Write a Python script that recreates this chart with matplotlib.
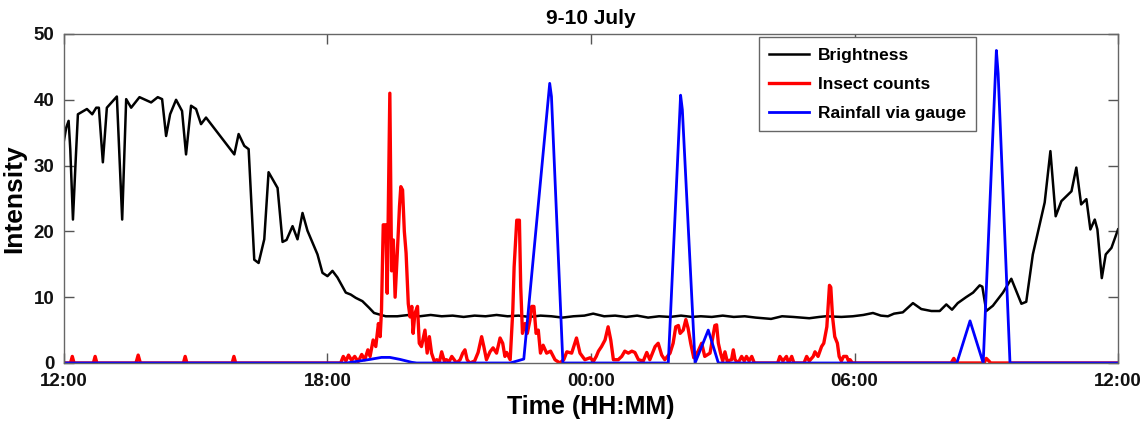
import numpy as np
import matplotlib
matplotlib.use('Agg')
import matplotlib.pyplot as plt

plt.rcParams['font.family'] = ['Liberation Sans', 'DejaVu Sans']
plt.rcParams['font.weight'] = 'bold'

# hours since 12:00 on 9 July
tick_hours = [0, 6, 12, 18, 24]
tick_labels = ['12:00', '18:00', '00:00', '06:00', '12:00']

bright_t = [0.0, 0.053, 0.106, 0.144, 0.205, 0.265, 0.318, 0.523, 0.644, 0.735, 0.795, 0.886,
            0.977, 1.205, 1.326, 1.417, 1.530, 1.720, 1.985, 2.136, 2.235, 2.326, 2.417, 2.553,
            2.689, 2.780, 2.894, 3.008, 3.121, 3.235, 3.879, 3.977, 4.106, 4.205, 4.333, 4.432,
            4.561, 4.659, 4.864, 4.977, 5.068, 5.205, 5.318, 5.432, 5.545, 5.773, 5.886, 6.0,
            6.114, 6.227, 6.417, 6.530, 6.644, 6.795, 6.947, 7.061, 7.326, 7.59,
            7.85, 8.1, 8.35, 8.6, 8.85, 9.1, 9.35, 9.6, 9.85, 10.1, 10.35, 10.6, 10.85, 11.1,
            11.35, 11.6, 11.85, 12.05, 12.3, 12.55, 12.8, 13.05, 13.3, 13.55, 13.8, 14.05,
            14.3, 14.5, 14.75, 15.0, 15.25, 15.5, 15.75, 16.1, 16.35, 16.6, 16.97, 17.2, 17.35,
            17.7, 17.96, 18.2, 18.42, 18.6, 18.76, 18.9, 19.10, 19.33, 19.52, 19.75, 19.94,
            20.09, 20.22, 20.35, 20.54, 20.70, 20.85, 20.91, 21.00, 21.15, 21.38, 21.57, 21.80,
            21.91, 22.06, 22.33, 22.46, 22.58, 22.71, 22.94, 23.05, 23.16, 23.28, 23.37, 23.47,
            23.53, 23.63, 23.72, 23.85, 24.0]
bright_v = [33.8, 35.8, 36.8, 32.5, 21.8, 30.5, 37.8, 38.6, 37.8, 38.8, 38.8, 30.5,
            38.8, 40.5, 21.8, 40.1, 38.8, 40.4, 39.6, 40.4, 40.1, 34.5, 37.8, 40.0,
            38.3, 31.7, 39.1, 38.6, 36.3, 37.3, 31.7, 34.8, 33.0, 32.5, 15.7, 15.2,
            18.8, 29.0, 26.6, 18.4, 18.7, 20.8, 18.8, 22.8, 20.1, 16.5, 13.7, 13.2,
            14.0, 13.0, 10.7, 10.4, 9.9, 9.4, 8.4, 7.6, 7.1, 7.1,
            7.3, 7.1, 7.3, 7.1, 7.2, 7.0, 7.2, 7.1, 7.3, 7.1, 7.2, 7.0, 7.2, 7.1,
            6.9, 7.1, 7.2, 7.5, 7.1, 7.2, 7.0, 7.2, 6.9, 7.1, 7.0, 7.2,
            7.0, 7.1, 7.0, 7.2, 7.0, 7.1, 6.9, 6.7, 7.1, 7.0, 6.8, 7.0, 7.1,
            7.0, 7.1, 7.3, 7.6, 7.2, 7.1, 7.5, 7.7, 9.1, 8.2, 7.9, 7.9,
            8.9, 8.1, 9.1, 10.0, 10.7, 11.8, 11.6, 7.9, 8.7, 10.7, 12.8, 9.0,
            9.3, 16.5, 24.4, 32.2, 22.3, 24.6, 26.1, 29.7, 24.1, 24.9, 20.3, 21.8,
            20.3, 12.9, 16.5, 17.5, 20.3]

insect_t = [0.0, 0.15, 0.19, 0.23, 0.67, 0.71, 0.75, 1.64, 1.69, 1.74, 2.72, 2.76, 2.80,
            3.83, 3.87, 3.91, 6.30, 6.36, 6.42, 6.48, 6.55, 6.62, 6.70, 6.78, 6.85, 6.92,
            6.97, 7.04, 7.10, 7.16, 7.20, 7.23, 7.27, 7.33, 7.36, 7.42, 7.46, 7.50, 7.54,
            7.59, 7.64, 7.67, 7.71, 7.75, 7.79, 7.84, 7.88, 7.92, 7.95, 7.99, 8.05, 8.09,
            8.14, 8.22, 8.27, 8.32, 8.37, 8.43, 8.49, 8.55, 8.60, 8.66, 8.71, 8.77, 8.83,
            8.94, 9.02, 9.08, 9.13, 9.18, 9.24, 9.35, 9.43, 9.51, 9.56, 9.62, 9.70, 9.77,
            9.85, 9.93, 9.99, 10.04, 10.08, 10.16, 10.22, 10.25, 10.31, 10.37, 10.40, 10.44,
            10.50, 10.55, 10.61, 10.65, 10.70, 10.75, 10.80, 10.85, 10.91, 10.99, 11.08,
            11.18, 11.29, 11.38, 11.45, 11.56, 11.67, 11.75, 11.86, 11.98, 12.06, 12.12,
            12.17, 12.24, 12.32, 12.39, 12.45, 12.51, 12.62, 12.70, 12.77, 12.85, 12.93,
            13.00, 13.08, 13.19, 13.27, 13.34, 13.46, 13.53, 13.61, 13.68, 13.80, 13.87,
            13.93, 13.99, 14.03, 14.10, 14.16, 14.21, 14.27, 14.34, 14.44, 14.52, 14.59,
            14.71, 14.82, 14.86, 14.90, 14.95, 15.00, 15.05, 15.10, 15.20, 15.24, 15.28,
            15.35, 15.43, 15.49, 15.54, 15.60, 15.66, 15.72, 16.25, 16.30, 16.37, 16.45,
            16.50, 16.57, 16.62, 16.85, 16.91, 16.97, 17.06, 17.10, 17.17, 17.25, 17.30,
            17.37, 17.43, 17.46, 17.50, 17.55, 17.61, 17.65, 17.70, 17.75, 17.82, 17.87,
            17.90, 17.95, 20.20, 20.26, 20.32, 20.95, 21.00, 21.06, 21.10, 24.0]
insect_v = [0, 0, 1.0, 0, 0, 1.0, 0, 0, 1.2, 0, 0, 1.0, 0,
            0, 1.0, 0, 0, 1.0, 0.3, 1.2, 0.4, 1.0, 0.2, 1.3, 0.5, 2.0,
            1.0, 3.5, 2.5, 6.0, 4.0, 8.0, 21.0, 21.0, 10.6, 41.0, 14.0, 18.7, 10.0,
            16.7, 23.8, 26.8, 26.3, 20.0, 16.7, 9.0, 7.0, 8.6, 4.5, 7.5, 8.6, 3.0,
            2.5, 5.0, 1.5, 4.0, 1.5, 0.3, 0.5, 0.2, 1.7, 0.3, 0.5, 0.2, 1.0,
            0, 0.5, 1.5, 2.0, 0.5, 0, 0.3, 1.6, 4.0, 2.5, 0.5, 1.7, 2.3,
            1.5, 3.8, 3.0, 1.0, 1.6, 0.5, 8.0, 14.6, 21.7, 21.7, 11.6, 4.5,
            6.0, 4.5, 6.5, 8.6, 8.6, 4.5, 5.0, 1.5, 2.7, 1.5, 1.8,
            0.5, 0, 0.5, 1.7, 1.5, 3.8, 1.5, 0.5, 0.8, 0.3, 1.0,
            1.8, 2.5, 3.5, 5.5, 3.5, 0.5, 0.5, 1.0, 1.8, 1.5, 1.8,
            1.6, 0.5, 0.3, 1.6, 0.5, 2.5, 3.0, 1.2, 0.5, 1.5, 3.0,
            5.5, 5.7, 4.5, 5.0, 6.6, 5.3, 3.0, 0.8, 1.8, 3.0, 1.0,
            1.5, 5.7, 5.8, 3.0, 1.5, 0.3, 1.7, 0.3, 0.5, 2.0, 0.5,
            0, 1.0, 0.3, 1.0, 0.3, 1.0, 0, 0, 1.0, 0.3, 1.0,
            0, 1.0, 0, 0, 1.0, 0.3, 1.0, 1.7, 1.0, 2.5, 3.0,
            5.5, 11.8, 11.5, 7.0, 4.0, 3.0, 1.0, 0.3, 1.0, 1.0, 0.2,
            0.5, 0, 0, 0.7, 0, 0, 0.7, 0.3, 0, 0]

rain_t = [0.0, 6.44, 6.97, 7.23, 7.42, 7.65, 7.92, 8.03, 10.16, 10.47, 11.06, 11.10, 11.36,
          13.76, 14.04, 14.08, 14.37, 14.67, 14.90, 20.33, 20.63, 20.93, 21.23, 21.27,
          21.54, 24.0]
rain_v = [0, 0, 0.55, 0.85, 0.85, 0.55, 0.1, 0, 0, 0.6, 42.5, 40.5, 0,
          0, 40.7, 38.5, 0, 5.0, 0, 0, 6.4, 0, 47.5, 44.0,
          0, 0]

fig = plt.figure(figsize=(11.48, 4.25), dpi=100)
ax = fig.add_axes([0.0557, 0.1459, 0.9182, 0.7741])

ax.plot(bright_t, bright_v, color='k', lw=1.8, label='Brightness')
ax.plot(insect_t, insect_v, color='#ff0000', lw=2.4, label='Insect counts')
ax.plot(rain_t, rain_v, color='#0000ff', lw=2.0, label='Rainfall via gauge')

ax.set_xlim(0, 24)
ax.set_ylim(0, 50)
ax.set_xticks(tick_hours)
ax.set_xticklabels(tick_labels)
ax.set_yticks([0, 10, 20, 30, 40, 50])
ax.tick_params(direction='in', length=7, width=1, colors='#555555',
               top=True, right=True, labelsize=13.5, labelcolor='#111111', pad=7)
for s in ax.spines.values():
    s.set_color('#666666')
    s.set_linewidth(1)

ax.set_title('9-10 July', fontsize=15, fontweight='bold', pad=7)
ax.set_xlabel('Time (HH:MM)', fontsize=18, fontweight='bold', labelpad=4)
ax.set_ylabel('Intensity', fontsize=19, fontweight='bold', labelpad=5)

leg = ax.legend(loc='upper left', bbox_to_anchor=(0.659, 0.99), borderaxespad=0,
                fancybox=False, framealpha=1, edgecolor='#666666', fontsize=12.5,
                handlelength=2.3, handletextpad=0.5, labelspacing=0.8, borderpad=0.6)
leg.get_frame().set_linewidth(1)

fig.savefig('out.png', dpi=100)
